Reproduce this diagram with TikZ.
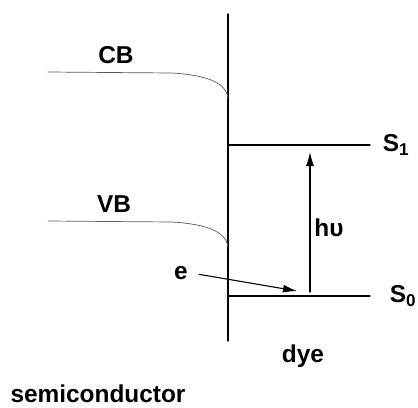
\documentclass[tikz,border=0pt]{standalone}
\usepackage{fontspec}
\setmainfont{Liberation Sans}
\usetikzlibrary{arrows.meta}
\begin{document}
\begin{tikzpicture}[x=1bp, y=-1bp, font=\fontsize{24.5}{28}\selectfont\bfseries, line join=round, line cap=round, >={Latex[length=14bp,width=8bp]}]
\useasboundingbox (0,0) rectangle (418,408);
\tikzset{band/.style={gray!70!black, line width=.7bp}, level/.style={line width=1.1bp}}
% interface
\coordinate (top) at (228,14);
\coordinate (bot) at (228,341);
\draw[level] (top)--(bot);
% bands of the semiconductor
\foreach \n/\y/\s in {CB/72/-56,VB/221/-58}
\draw[band] (48,\y)--(172,\y+1) .. controls (205,\y+3) and (226,\y+10) .. (228,\y+26)
  node[pos=0,above=6bp, xshift=\s bp, text=black] (\n) {\n};
% levels of the dye
\foreach \n/\y/\s in {1/145/9,0/296/16}
\draw[level] (228,\y) coordinate (a\n)--(370,\y) coordinate (b\n)
  node[right=\s bp] (S\n) {S\textsubscript{\n}};
\draw[->, level] (310,292) coordinate (up)--(310,152) coordinate (down);
\node (hv) at (329,228) {h\textnormal{\bfseries υ}};
\node (e) at (181,273) {e};
\coordinate (ee) at (297,291);
\draw[->, level, shorten <=8bp] (e.east)--(ee);
\node (dye) at (303,356) {dye};
\node (semi) at (98,394) {semiconductor};
\end{tikzpicture}
\end{document}
